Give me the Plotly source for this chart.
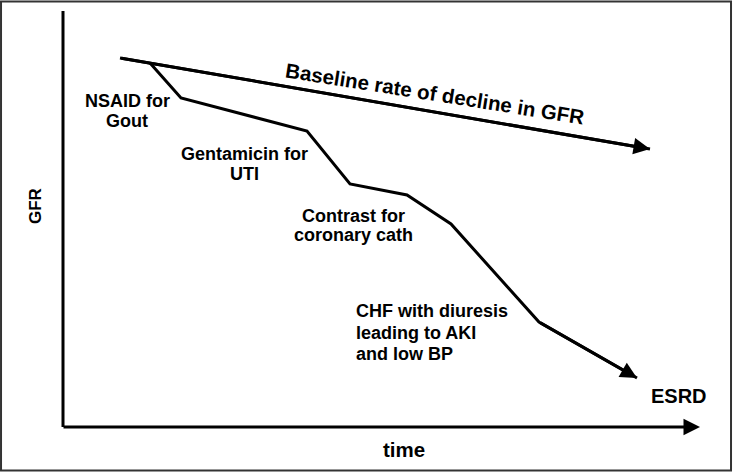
import plotly.graph_objects as go

# time / GFR in arbitrary units (origin at the axes corner)
baseline_time = [57, 587]
baseline_gfr = [369, 278]

decline_time = [87, 118, 244, 287, 344, 388, 476, 574]
decline_gfr = [364, 329, 296, 243, 232, 203, 105, 49]

label_lines = ["NSAID for", "Gout", "Gentamicin for", "UTI", "Contrast for", "coronary cath",
               "CHF with diuresis", "leading to AKI", "and low BP", "ESRD"]
label_time = [64, 64, 181, 181, 290, 290, 291, 291, 291, 586]
label_gfr = [326, 306, 273, 253, 211, 192, 116, 94, 73, 31]
label_anchor = ["center"] * 6 + ["left"] * 4
label_size = [18] * 9 + [20]

FONT = "Liberation Sans, Arial, sans-serif"
INK = "#000000"

fig = go.Figure()
fig.add_trace(go.Scatter(x=baseline_time, y=baseline_gfr, mode="lines",
                         line=dict(color=INK, width=3), hoverinfo="skip"))
fig.add_trace(go.Scatter(x=decline_time, y=decline_gfr, mode="lines",
                         line=dict(color=INK, width=3), hoverinfo="skip"))

# arrowheads on the final segments
for xs, ys in [(baseline_time, baseline_gfr), (decline_time, decline_gfr)]:
    fig.add_annotation(x=xs[-1], y=ys[-1], ax=xs[-2], ay=ys[-2], axref="x", ayref="y",
                       xref="x", yref="y", text="", showarrow=True, arrowhead=2,
                       arrowsize=1.1, arrowwidth=3, arrowcolor=INK, standoff=0)

# axes
fig.add_shape(type="line", x0=0, y0=0, x1=0, y1=416, xref="x", yref="y",
              line=dict(color=INK, width=3))
fig.add_annotation(x=637, y=0, ax=-1, ay=0, axref="x", ayref="y", xref="x", yref="y",
                   text="", showarrow=True, arrowhead=2, arrowsize=1.1, arrowwidth=3,
                   arrowcolor=INK, standoff=0)

for txt, t, g, al, sz in zip(label_lines, label_time, label_gfr, label_anchor, label_size):
    fig.add_annotation(x=t, y=g, text="<b>%s</b>" % txt, showarrow=False,
                       xanchor=al, yanchor="middle",
                       font=dict(family=FONT, size=sz, color=INK))

fig.add_annotation(x=372, y=334, text="<b>Baseline rate of decline in GFR</b>", showarrow=False,
                   textangle=9, font=dict(family=FONT, size=20.5, color=INK))
fig.add_annotation(x=-28, y=221, text="<b>GFR</b>", showarrow=False, textangle=-90,
                   font=dict(family=FONT, size=17, color=INK))
fig.add_annotation(x=341, y=-22, text="<b>time</b>", showarrow=False,
                   font=dict(family=FONT, size=20.5, color=INK))

# outer frame
fig.add_shape(type="rect", xref="paper", yref="paper", x0=0.0014, y0=0.0074, x1=0.9973, y1=0.9968,
              line=dict(color="#333333", width=2))

fig.update_layout(
    width=733, height=474,
    margin=dict(l=0, r=0, t=0, b=0),
    plot_bgcolor="white", paper_bgcolor="white",
    showlegend=False,
    xaxis=dict(range=[-63, 670], visible=False, fixedrange=True),
    yaxis=dict(range=[-47, 427], visible=False, fixedrange=True),
)

fig.write_html("out.html", config={"displayModeBar": False},
               post_script="document.body.style.margin='0';")
